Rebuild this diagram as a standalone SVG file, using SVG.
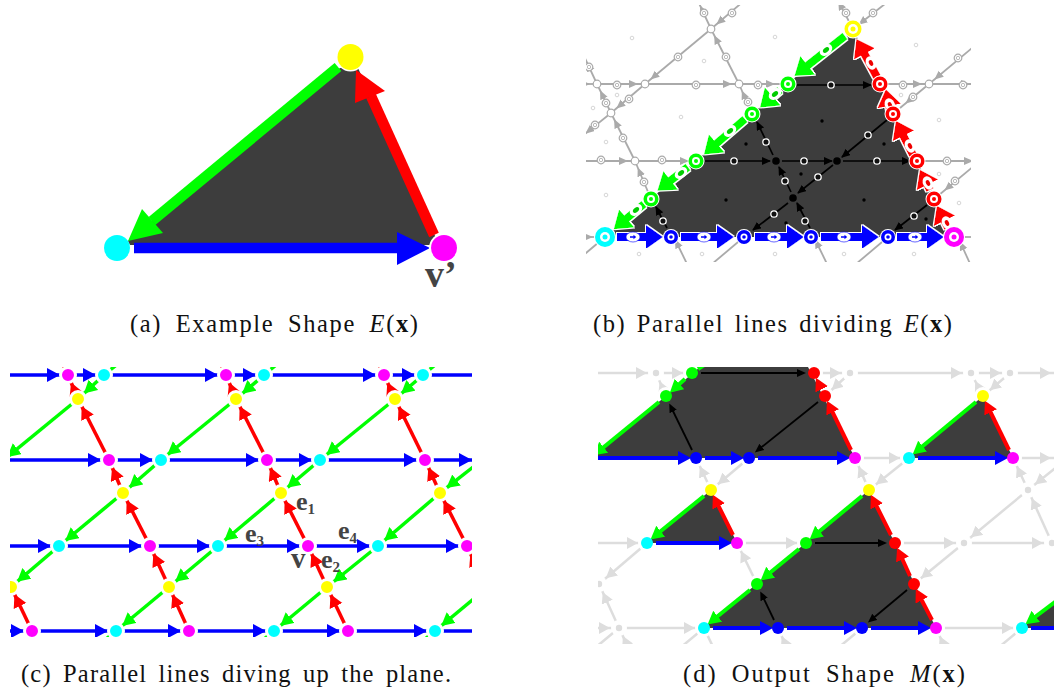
<svg xmlns="http://www.w3.org/2000/svg" width="1054" height="692" viewBox="0 0 1054 692">
<style>
text{font-family:"Liberation Serif","Times New Roman",serif}
.cap{font-size:24.5px;fill:#111}
.lab{font-weight:bold;fill:#444;font-size:26px}
.sub{font-size:15px}
.dark{fill:#3d3d3d}
.cb{stroke:#00f;stroke-width:3.5;fill:none;marker-end:url(#hcb)}
.cg{stroke:#0f0;stroke-width:3.5;fill:none;marker-end:url(#hcg)}
.cr{stroke:#f00;stroke-width:3.5;fill:none;marker-end:url(#hcr)}
.db{stroke:#00f;stroke-width:4;marker-end:url(#hdb)}
.dg{stroke:#0f0;stroke-width:4;marker-end:url(#hdg)}
.dr{stroke:#f00;stroke-width:4;marker-end:url(#hdr)}
.dk{stroke:#000;stroke-width:1.8;marker-end:url(#hdk)}
.dy{stroke:#ddd;stroke-width:2.5;marker-end:url(#hdy)}
.bb{stroke:#00f;stroke-width:8;marker-end:url(#hbb)}
.bg{stroke:#0f0;stroke-width:8;marker-end:url(#hbg)}
.br{stroke:#f00;stroke-width:8;marker-end:url(#hbr)}
.bk{stroke:#000;stroke-width:1.7;marker-end:url(#hbk)}
.by{stroke:#aaa;stroke-width:1.8;marker-end:url(#hby)}
.n{stroke:#fff;stroke-width:3}
.m{fill:#f0f}.c{fill:#0ff}.y{fill:#ff0}.u{fill:#00f}.g{fill:#0f0}.r{fill:#f00}
.f{fill:#fff;stroke:#ccc;stroke-width:.8}
</style>
<defs>
<clipPath id="pb"><rect x="586" y="5" width="385" height="257"/></clipPath>
<clipPath id="pc"><rect x="10" y="367" width="462" height="270"/></clipPath>
<clipPath id="pd"><rect x="598" y="367" width="456" height="277"/></clipPath>
<marker id="hcb" markerUnits="userSpaceOnUse" markerWidth="40" markerHeight="30" refX="21" refY="7" orient="auto"><path d="M0,0L13,7L0,14Z" fill="#00f"/></marker>
<marker id="hcg" markerUnits="userSpaceOnUse" markerWidth="40" markerHeight="30" refX="21" refY="7" orient="auto"><path d="M0,0L13,7L0,14Z" fill="#0f0"/></marker>
<marker id="hcr" markerUnits="userSpaceOnUse" markerWidth="40" markerHeight="30" refX="21" refY="7" orient="auto"><path d="M0,0L13,7L0,14Z" fill="#f00"/></marker>
<marker id="hdb" markerUnits="userSpaceOnUse" markerWidth="20" markerHeight="20" refX="6" refY="7" orient="auto"><path d="M0,0L13,7L0,14Z" fill="#00f"/></marker>
<marker id="hdg" markerUnits="userSpaceOnUse" markerWidth="20" markerHeight="20" refX="6" refY="7" orient="auto"><path d="M0,0L13,7L0,14Z" fill="#0f0"/></marker>
<marker id="hdr" markerUnits="userSpaceOnUse" markerWidth="20" markerHeight="20" refX="6" refY="7" orient="auto"><path d="M0,0L13,7L0,14Z" fill="#f00"/></marker>
<marker id="hdk" markerUnits="userSpaceOnUse" markerWidth="20" markerHeight="20" refX="5" refY="4" orient="auto"><path d="M0,0L9,4L0,8Z" fill="#000"/></marker>
<marker id="hdy" markerUnits="userSpaceOnUse" markerWidth="40" markerHeight="30" refX="20" refY="6" orient="auto"><path d="M0,0L11,6L0,12Z" fill="#ddd"/></marker>
<marker id="hbb" markerUnits="userSpaceOnUse" markerWidth="20" markerHeight="30" refX="1" refY="12" orient="auto"><path d="M0,0L17,12L0,24Z" fill="#00f"/></marker>
<marker id="hbg" markerUnits="userSpaceOnUse" markerWidth="20" markerHeight="30" refX="1" refY="12" orient="auto"><path d="M0,0L17,12L0,24Z" fill="#0f0"/></marker>
<marker id="hbr" markerUnits="userSpaceOnUse" markerWidth="20" markerHeight="30" refX="1" refY="12" orient="auto"><path d="M0,0L17,12L0,24Z" fill="#f00"/></marker>
<marker id="hbk" markerUnits="userSpaceOnUse" markerWidth="12" markerHeight="10" refX="8" refY="4" orient="auto"><path d="M0,0L9,4L0,8Z" fill="#000"/></marker>
<marker id="hby" markerUnits="userSpaceOnUse" markerWidth="30" markerHeight="12" refX="16" refY="4" orient="auto"><path d="M0,0L9,4L0,8Z" fill="#aaa"/></marker>
<filter id="wo" x="-5%" y="-5%" width="110%" height="110%"><feMorphology in="SourceAlpha" operator="dilate" radius="1" result="d"/><feFlood flood-color="#fff"/><feComposite in2="d" operator="in"/><feMerge><feMergeNode/><feMergeNode in="SourceGraphic"/></feMerge></filter>
<g id="ring"><circle r="3.8" fill="#fff" stroke="#aaa" stroke-width="1.2"/><circle r="1.7" fill="#fff" stroke="#aaa" stroke-width=".8"/></g>
<g id="kr"><circle r="3.2" fill="#111" stroke="#fff" stroke-width="1.300"/></g>
<g id="capb"><ellipse rx="7" ry="5" fill="#fff" stroke="#00f" stroke-width=".6"/><path d="M-3,-.7H.5V-2.200L3.200,0L.5,2.200V.7H-3Z" fill="#00f"/></g>
<g id="capg"><ellipse rx="7" ry="5" fill="#fff"/><ellipse rx="3.600" ry="2.200" fill="#0c0"/></g>
<g id="capr"><ellipse rx="7" ry="5" fill="#fff"/><ellipse rx="3" ry="2" fill="#e00"/></g>
</defs>

<!-- panel a -->
<polygon class="dark" points="128,241 340,68 358,68 436,238 430,245 130,245"/>
<g id="a-connectors">
<path d="M134,248H397" stroke="#00f" stroke-width="10.500"/><path d="M397,232L430,248L397,265Z" fill="#00f"/>
<path d="M338,67L152,221" stroke="#0f0" stroke-width="10.500"/><path d="M142,209L128,241L163,233Z" fill="#0f0"/>
<path d="M434,235L371,96" stroke="#f00" stroke-width="10.500"/><path d="M355,103L356,70L385,91Z" fill="#f00"/>
</g>
<g id="a-cyan"><circle class="c" cx="117" cy="248" r="13"/></g>
<g id="a-yellow"><circle cx="350.500" cy="57" r="14.500" fill="#fff"/><circle class="y" cx="350.500" cy="57" r="13"/></g>
<g id="a-magenta"><circle cx="444" cy="248" r="15" fill="#fff"/><circle class="m" cx="444" cy="248" r="13"/></g>
<text class="lab" x="425" y="287" style="font-size:38px">v’</text>
<text class="cap" x="130" y="332" textLength="288" lengthAdjust="spacing" style="word-spacing:6px">(a) Example Shape <tspan font-style="italic">E</tspan>(<tspan font-weight="bold">x</tspan>)</text>

<!-- panel b -->
<g clip-path="url(#pb)">
<g id="b-faint">
<circle class="f" cx="632" cy="38" r="1.800"/><circle class="f" cx="704" cy="61" r="1.800"/><circle class="f" cx="681" cy="117" r="1.800"/><circle class="f" cx="617" cy="95" r="1.800"/><circle class="f" cx="593" cy="108" r="1.800"/><circle class="f" cx="606" cy="142" r="1.800"/><circle class="f" cx="606" cy="195" r="1.800"/><circle class="f" cx="639" cy="254" r="1.800"/><circle class="f" cx="702" cy="254" r="1.800"/><circle class="f" cx="775" cy="254" r="1.800"/><circle class="f" cx="844" cy="254" r="1.800"/><circle class="f" cx="914" cy="254" r="1.800"/><circle class="f" cx="959" cy="203" r="1.800"/><circle class="f" cx="939" cy="174" r="1.800"/><circle class="f" cx="939" cy="120" r="1.800"/><circle class="f" cx="901" cy="95" r="1.800"/><circle class="f" cx="916" cy="45" r="1.800"/><circle class="f" cx="775" cy="37" r="1.800"/>
</g>
<g id="b-gray-connectors">
<line class="by" x1="711" y1="29" x2="645" y2="84"/><line class="by" x1="739" y1="84" x2="711" y2="29"/>
<line class="by" x1="586" y1="84" x2="597" y2="84"/><line class="by" x1="597" y1="84" x2="645" y2="84"/><line class="by" x1="645" y1="84" x2="739" y2="84"/><line class="by" x1="739" y1="84" x2="782" y2="84"/>
<line class="by" x1="879" y1="84" x2="929" y2="84"/><line class="by" x1="929" y1="84" x2="977" y2="84"/><line class="by" x1="929" y1="84" x2="900" y2="108"/><line class="by" x1="972" y1="48" x2="929" y2="84"/>
<line class="by" x1="752" y1="114" x2="739" y2="84"/><line class="by" x1="645" y1="84" x2="611" y2="113"/><line class="by" x1="611" y1="113" x2="597" y2="84"/><line class="by" x1="611" y1="113" x2="580" y2="138"/><line class="by" x1="597" y1="84" x2="584" y2="56"/>
<line class="by" x1="635" y1="161" x2="611" y2="113"/><line class="by" x1="580" y1="161" x2="635" y2="161"/><line class="by" x1="635" y1="161" x2="696" y2="161"/><line class="by" x1="917" y1="161" x2="980" y2="161"/><line class="by" x1="651" y1="199" x2="635" y2="161"/><line class="by" x1="975" y1="165" x2="939" y2="195"/>
<line class="by" x1="745" y1="0" x2="711" y2="29"/><line class="by" x1="711" y1="29" x2="697" y2="-1"/><line class="by" x1="890" y1="0" x2="853" y2="29"/><line class="by" x1="853" y1="29" x2="835" y2="-5"/>
<line class="by" x1="605" y1="237" x2="580" y2="258" style="marker-end:none"/><line class="by" x1="744" y1="237" x2="712" y2="264" style="marker-end:none"/><line class="by" x1="888" y1="237" x2="856" y2="264" style="marker-end:none"/>
<line class="by" x1="689" y1="268" x2="672" y2="233"/><line class="by" x1="829" y1="268" x2="812" y2="233"/><line class="by" x1="972" y1="268" x2="957" y2="235"/>
<line class="by" x1="580" y1="237" x2="600" y2="237"/><line class="by" x1="954" y1="237" x2="985" y2="237" style="marker-end:none"/>
</g>
<g id="b-gray-rings">
<use href="#ring" x="678" y="57"/><use href="#ring" x="726" y="57"/><use href="#ring" x="617" y="85"/><use href="#ring" x="696" y="85"/><use href="#ring" x="758" y="85"/><use href="#ring" x="903" y="85"/><use href="#ring" x="963" y="85"/><use href="#ring" x="913" y="97"/><use href="#ring" x="958" y="58"/><use href="#ring" x="748" y="102"/><use href="#ring" x="629" y="99"/><use href="#ring" x="606" y="103"/><use href="#ring" x="595" y="125"/><use href="#ring" x="589" y="67"/><use href="#ring" x="623" y="138"/><use href="#ring" x="601" y="160"/><use href="#ring" x="662" y="160"/><use href="#ring" x="947" y="161"/><use href="#ring" x="644" y="182"/><use href="#ring" x="955" y="181"/><use href="#ring" x="732" y="13"/><use href="#ring" x="704" y="13"/><use href="#ring" x="873" y="13"/><use href="#ring" x="846" y="13"/>
</g>
<g id="b-gray-nodes" fill="#fff" stroke="#aaa" stroke-width="1.2">
<g id="b-g1"><circle cx="711" cy="29" r="3.800"/></g><g id="b-g2"><circle cx="645" cy="84" r="3.800"/></g><g id="b-g3"><circle cx="739" cy="84" r="3.800"/></g><g id="b-g4"><circle cx="929" cy="84" r="3.800"/></g><g id="b-g5"><circle cx="597" cy="84" r="3.800"/></g><g id="b-g6"><circle cx="611" cy="113" r="3.800"/></g><g id="b-g7"><circle cx="635" cy="161" r="3.800"/></g>
</g>
<polygon class="dark" points="605,237 853,29 954,237"/>
<g fill="#000"><circle cx="822" cy="121" r="1.700"/><circle cx="884" cy="144" r="1.700"/><circle cx="746" cy="144" r="1.700"/><circle cx="801" cy="174" r="1.700"/><circle cx="726" cy="200" r="1.700"/><circle cx="864" cy="200" r="1.700"/><circle cx="926" cy="219" r="1.700"/><circle cx="786" cy="223" r="1.700"/></g>
<g id="b-black-connectors">
<line class="bk" x1="797" y1="85" x2="871" y2="85"/><line class="bk" x1="782" y1="161" x2="832" y2="161"/><line class="bk" x1="705" y1="161" x2="770" y2="161"/><line class="bk" x1="843" y1="161" x2="910" y2="161"/>
<line class="bk" x1="887" y1="120" x2="842" y2="157"/><line class="bk" x1="833" y1="165" x2="798" y2="193"/><line class="bk" x1="788" y1="203" x2="753" y2="230"/><line class="bk" x1="927" y1="205" x2="895" y2="230"/>
<line class="bk" x1="810" y1="228" x2="797" y2="203"/><line class="bk" x1="791" y1="192" x2="779" y2="167"/><line class="bk" x1="773" y1="155" x2="757" y2="122"/><line class="bk" x1="667" y1="228" x2="656" y2="207"/>
</g>
<use href="#kr" x="831" y="85"/><use href="#kr" x="734" y="161"/><use href="#kr" x="804" y="161"/><use href="#kr" x="877" y="161"/><use href="#kr" x="868" y="135"/><use href="#kr" x="818" y="177"/><use href="#kr" x="774" y="214"/><use href="#kr" x="914" y="216"/><use href="#kr" x="805" y="221"/><use href="#kr" x="785" y="181"/><use href="#kr" x="766" y="142"/><use href="#kr" x="663" y="221"/>
<g id="b-colored-connectors" filter="url(#wo)">
<line class="bb" x1="617" y1="237" x2="647" y2="237"/><line class="bb" x1="681" y1="237" x2="718" y2="237"/><line class="bb" x1="755" y1="237" x2="788" y2="237"/><line class="bb" x1="821" y1="237" x2="863" y2="237"/><line class="bb" x1="897" y1="237" x2="928" y2="237"/>
<line class="bg" x1="845" y1="36" x2="807" y2="66"/><line class="bg" x1="780" y1="90" x2="772" y2="97"/><line class="bg" x1="745" y1="119" x2="716" y2="144"/><line class="bg" x1="688" y1="167" x2="670" y2="181"/><line class="bg" x1="644" y1="204" x2="626" y2="219"/>
<line class="br" x1="948" y1="228" x2="944" y2="220"/><line class="br" x1="930" y1="190" x2="927" y2="184"/><line class="br" x1="913" y1="155" x2="903" y2="135"/><line class="br" x1="890" y1="110" x2="889" y2="105"/><line class="br" x1="877" y1="77" x2="864" y2="53"/>
</g>
<g id="b-capsules">
<use href="#capb" x="633" y="237"/><use href="#capb" x="704" y="237"/><use href="#capb" x="774" y="237"/><use href="#capb" x="844" y="237"/><use href="#capb" x="915" y="237"/>
<use href="#capg" transform="translate(826,50) rotate(-40)"/><use href="#capg" transform="translate(775,94) rotate(-40)"/><use href="#capg" transform="translate(730,131) rotate(-40)"/><use href="#capg" transform="translate(681,173) rotate(-40)"/><use href="#capg" transform="translate(636,210) rotate(-40)"/>
<use href="#capr" transform="translate(871,63) rotate(65)"/><use href="#capr" transform="translate(890,105) rotate(65)"/><use href="#capr" transform="translate(910,146) rotate(65)"/><use href="#capr" transform="translate(928,183) rotate(65)"/><use href="#capr" transform="translate(947,223) rotate(65)"/>
</g>
<g id="b-nodes" fill="#fff">
<g id="b-k1"><circle cx="776" cy="161" r="3.800" fill="#000"/></g><g id="b-k2"><circle cx="837" cy="161" r="3.800" fill="#000"/></g><g id="b-k3"><circle cx="793" cy="198" r="3.800" fill="#000"/></g>
<g id="b-u1"><circle cx="671" cy="237" r="8"/><circle cx="671" cy="237" r="7" class="u"/><circle cx="671" cy="237" r="3.500"/><circle cx="671" cy="237" r="1.800" class="u"/></g>
<g id="b-u2"><circle cx="744" cy="237" r="8"/><circle cx="744" cy="237" r="7" class="u"/><circle cx="744" cy="237" r="3.500"/><circle cx="744" cy="237" r="1.800" class="u"/></g>
<g id="b-u3"><circle cx="811" cy="237" r="8"/><circle cx="811" cy="237" r="7" class="u"/><circle cx="811" cy="237" r="3.500"/><circle cx="811" cy="237" r="1.800" class="u"/></g>
<g id="b-u4"><circle cx="888" cy="237" r="8"/><circle cx="888" cy="237" r="7" class="u"/><circle cx="888" cy="237" r="3.500"/><circle cx="888" cy="237" r="1.800" class="u"/></g>
<g id="b-g-1"><circle cx="788" cy="84" r="8.500"/><circle cx="788" cy="84" r="7.500" class="g"/><circle cx="788" cy="84" r="4"/><circle cx="788" cy="84" r="2" class="g"/></g>
<g id="b-g-2"><circle cx="752" cy="114" r="8.500"/><circle cx="752" cy="114" r="7.500" class="g"/><circle cx="752" cy="114" r="4"/><circle cx="752" cy="114" r="2" class="g"/></g>
<g id="b-g-3"><circle cx="696" cy="161" r="8.500"/><circle cx="696" cy="161" r="7.500" class="g"/><circle cx="696" cy="161" r="4"/><circle cx="696" cy="161" r="2" class="g"/></g>
<g id="b-g-4"><circle cx="651" cy="199" r="8.500"/><circle cx="651" cy="199" r="7.500" class="g"/><circle cx="651" cy="199" r="4"/><circle cx="651" cy="199" r="2" class="g"/></g>
<g id="b-r1"><circle cx="880" cy="84" r="8.500"/><circle cx="880" cy="84" r="7.500" class="r"/><circle cx="880" cy="84" r="4"/><circle cx="880" cy="84" r="2" class="r"/></g>
<g id="b-r2"><circle cx="893" cy="114" r="8.500"/><circle cx="893" cy="114" r="7.500" class="r"/><circle cx="893" cy="114" r="4"/><circle cx="893" cy="114" r="2" class="r"/></g>
<g id="b-r3"><circle cx="917" cy="161" r="8.500"/><circle cx="917" cy="161" r="7.500" class="r"/><circle cx="917" cy="161" r="4"/><circle cx="917" cy="161" r="2" class="r"/></g>
<g id="b-r4"><circle cx="934" cy="199" r="8.500"/><circle cx="934" cy="199" r="7.500" class="r"/><circle cx="934" cy="199" r="4"/><circle cx="934" cy="199" r="2" class="r"/></g>
<g id="b-cyan"><circle cx="605" cy="237" r="11"/><circle cx="605" cy="237" r="10" class="c"/><circle cx="605" cy="237" r="5"/><circle cx="605" cy="237" r="2.500" class="c"/></g>
<g id="b-yellow"><circle cx="853" cy="29" r="9.500"/><circle cx="853" cy="29" r="8.500" class="y"/><circle cx="853" cy="29" r="5"/><circle cx="853" cy="29" r="2.500" class="y"/></g>
<g id="b-magenta"><circle cx="954" cy="237" r="11"/><circle cx="954" cy="237" r="10" class="m"/><circle cx="954" cy="237" r="5"/><circle cx="954" cy="237" r="2.500" class="m"/></g>
</g>
</g>
<text class="cap" x="593" y="332" textLength="359" lengthAdjust="spacing" style="word-spacing:3px">(b) Parallel lines dividing <tspan font-style="italic">E</tspan>(<tspan font-weight="bold">x</tspan>)</text>

<!-- panel c -->
<g clip-path="url(#pc)">
<g id="c-connectors">
<path class="cb" d="M0,375H68"/><path class="cb" d="M68,375H104"/><path class="cb" d="M104,375H226"/><path class="cb" d="M226,375H264"/><path class="cb" d="M264,375H384"/><path class="cb" d="M384,375H423"/><path d="M423,375H480" stroke="#00f" stroke-width="3.500"/>
<path class="cb" d="M0,460H109"/><path class="cb" d="M109,460H161"/><path class="cb" d="M161,460H267"/><path class="cb" d="M267,460H320"/><path class="cb" d="M320,460H425"/><path class="cb" d="M425,460H480"/>
<path class="cb" d="M0,546H59"/><path class="cb" d="M59,546H150"/><path class="cb" d="M150,546H218"/><path class="cb" d="M218,546H308"/><path class="cb" d="M308,546H378"/><path class="cb" d="M378,546H467"/>
<path class="cb" d="M0,631H32"/><path class="cb" d="M32,631H116"/><path class="cb" d="M116,631H189"/><path class="cb" d="M189,631H274"/><path class="cb" d="M274,631H348"/><path class="cb" d="M348,631H435"/><path d="M435,631H480" stroke="#00f" stroke-width="3.500"/>
<path class="cg" d="M104,375L78,399"/><path class="cg" d="M264,375L236,399"/><path class="cg" d="M423,375L395,399"/>
<path class="cg" d="M78,399L1,462"/><path class="cg" d="M236,399L161,460"/><path class="cg" d="M395,399L320,460"/>
<path class="cg" d="M161,460L123,493"/><path class="cg" d="M320,460L281,493"/><path class="cg" d="M482,460L440,493"/>
<path class="cg" d="M123,493L59,546"/><path class="cg" d="M281,493L218,546"/><path class="cg" d="M440,493L378,546"/>
<path class="cg" d="M59,546L11,587"/><path class="cg" d="M218,546L169,587"/><path class="cg" d="M378,546L327,587"/>
<path class="cg" d="M169,587L116,631"/><path class="cg" d="M327,587L274,631"/><path class="cg" d="M488,587L435,631"/>
<path d="M141,345L104,375M300,345L264,375M459,345L423,375M116,631L90,652M274,631L248,652M435,631L409,652" stroke="#0f0" stroke-width="3.500"/>
<path class="cr" d="M189,631L169,587"/><path class="cr" d="M348,631L327,587"/><path class="cr" d="M32,631L11,587"/>
<path class="cr" d="M169,587L150,546"/><path class="cr" d="M327,587L308,546"/>
<path class="cr" d="M150,546L123,493"/><path class="cr" d="M308,546L281,493"/><path class="cr" d="M467,546L440,493"/>
<path class="cr" d="M123,493L109,460"/><path class="cr" d="M281,493L267,460"/><path class="cr" d="M440,493L425,460"/>
<path class="cr" d="M109,460L78,399"/><path class="cr" d="M267,460L236,399"/><path class="cr" d="M425,460L395,399"/>
<path class="cr" d="M78,399L68,375"/><path class="cr" d="M236,399L226,375"/><path class="cr" d="M395,399L384,375"/>
<path class="cr" d="M68,375L60,358"/><path class="cr" d="M226,375L218,358"/><path class="cr" d="M384,375L376,358"/>
<path class="cr" d="M54,677L32,631"/><path class="cr" d="M211,677L189,631"/><path class="cr" d="M370,677L348,631"/><path class="cr" d="M487,590L467,546"/>
</g>
<g id="c-nodes">
<g id="c-m1"><circle class="m n" cx="68" cy="375" r="7.500"/></g><g id="c-m2"><circle class="m n" cx="226" cy="375" r="7.500"/></g><g id="c-m3"><circle class="m n" cx="384" cy="375" r="7.500"/></g>
<g id="c-c1"><circle class="c n" cx="104" cy="375" r="7.500"/></g><g id="c-c2"><circle class="c n" cx="264" cy="375" r="7.500"/></g><g id="c-c3"><circle class="c n" cx="423" cy="375" r="7.500"/></g>
<g id="c-y1"><circle class="y n" cx="78" cy="399" r="7.500"/></g><g id="c-y2"><circle class="y n" cx="236" cy="399" r="7.500"/></g><g id="c-y3"><circle class="y n" cx="395" cy="399" r="7.500"/></g>
<g id="c-m4"><circle class="m n" cx="109" cy="460" r="7.500"/></g><g id="c-m5"><circle class="m n" cx="267" cy="460" r="7.500"/></g><g id="c-m6"><circle class="m n" cx="425" cy="460" r="7.500"/></g>
<g id="c-c4"><circle class="c n" cx="161" cy="460" r="7.500"/></g><g id="c-c5"><circle class="c n" cx="320" cy="460" r="7.500"/></g>
<g id="c-y4"><circle class="y n" cx="123" cy="493" r="7.500"/></g><g id="c-y5"><circle class="y n" cx="281" cy="493" r="7.500"/></g><g id="c-y6"><circle class="y n" cx="440" cy="493" r="7.500"/></g>
<g id="c-c6"><circle class="c n" cx="59" cy="546" r="7.500"/></g><g id="c-m7"><circle class="m n" cx="150" cy="546" r="7.500"/></g><g id="c-c7"><circle class="c n" cx="218" cy="546" r="7.500"/></g><g id="c-m8"><circle class="m n" cx="308" cy="546" r="7.500"/></g><g id="c-c8"><circle class="c n" cx="378" cy="546" r="7.500"/></g><g id="c-m9"><circle class="m n" cx="467" cy="546" r="7.500"/></g>
<g id="c-y7"><circle class="y n" cx="11" cy="587" r="7.500"/></g><g id="c-y8"><circle class="y n" cx="169" cy="587" r="7.500"/></g><g id="c-y9"><circle class="y n" cx="327" cy="587" r="7.500"/></g>
<g id="c-m10"><circle class="m n" cx="32" cy="631" r="7.500"/></g><g id="c-c9"><circle class="c n" cx="116" cy="631" r="7.500"/></g><g id="c-m11"><circle class="m n" cx="189" cy="631" r="7.500"/></g><g id="c-c10"><circle class="c n" cx="274" cy="631" r="7.500"/></g><g id="c-m12"><circle class="m n" cx="348" cy="631" r="7.500"/></g><g id="c-c11"><circle class="c n" cx="435" cy="631" r="7.500"/></g>
</g>
</g>
<text class="lab" x="296" y="510">e<tspan class="sub" dy="4">1</tspan></text>
<text class="lab" x="245" y="542">e<tspan class="sub" dy="4">3</tspan></text>
<text class="lab" x="338" y="539">e<tspan class="sub" dy="4">4</tspan></text>
<text class="lab" x="321" y="568">e<tspan class="sub" dy="4">2</tspan></text>
<text class="lab" x="291" y="568" style="font-size:29px">v</text>
<text class="cap" x="21" y="682" textLength="430" lengthAdjust="spacing" style="word-spacing:4px">(c) Parallel lines diving up the plane.</text>

<!-- panel d -->
<g clip-path="url(#pd)">
<g id="d-gray-connectors">
<path class="dy" d="M590,373H656"/><path class="dy" d="M656,373H692"/><path class="dy" d="M814,373H850"/><path class="dy" d="M850,373H971"/><path class="dy" d="M971,373H1010"/><path class="dy" d="M1010,373H1060"/>
<path class="dy" d="M855,458H909"/><path class="dy" d="M1013,458H1060"/>
<path class="dy" d="M590,543H647"/><path class="dy" d="M737,543H806"/><path class="dy" d="M895,543H964"/><path class="dy" d="M964,543H1052"/>
<path class="dy" d="M590,628H619"/><path class="dy" d="M619,628H704"/><path class="dy" d="M936,628H1022"/>
<path class="dy" d="M850,373L825,396"/><path class="dy" d="M1010,373L983,396"/><path class="dy" d="M666,396L656,373"/><path class="dy" d="M983,396L971,373"/>
<path class="dy" d="M711,490L696,458"/><path class="dy" d="M749,458L711,490"/><path class="dy" d="M869,490L855,458"/><path class="dy" d="M909,458L869,490"/><path class="dy" d="M1028,490L1013,458"/><path class="dy" d="M1068,458L1028,490"/>
<path class="dy" d="M1028,490L964,543"/><path class="dy" d="M1052,543L1028,490"/><path class="dy" d="M647,543L599,584"/><path class="dy" d="M757,584L737,543"/><path class="dy" d="M964,543L914,584"/><path class="dy" d="M619,628L599,584"/>
<path class="dy" d="M640,672L619,628"/><path class="dy" d="M798,672L778,628"/><path class="dy" d="M956,672L936,628"/><path class="dy" d="M725,672L704,628" style="marker-end:none"/>
<path d="M704,628L680,648M862,628L838,648M619,628L595,648M1022,628L998,648" stroke="#ddd" stroke-width="2.500"/>
</g>
<g id="d-halos" fill="#fff">
<circle cx="692" cy="373" r="9"/><circle cx="814" cy="373" r="9"/><circle cx="666" cy="396" r="9"/><circle cx="825" cy="396" r="9"/><circle cx="983" cy="396" r="9"/><circle cx="696" cy="458" r="9"/><circle cx="749" cy="458" r="9"/><circle cx="855" cy="458" r="9"/><circle cx="909" cy="458" r="9"/><circle cx="1013" cy="458" r="9"/><circle cx="711" cy="490" r="9"/><circle cx="869" cy="490" r="9"/><circle cx="647" cy="543" r="9"/><circle cx="737" cy="543" r="9"/><circle cx="806" cy="543" r="9"/><circle cx="895" cy="543" r="9"/><circle cx="757" cy="584" r="9"/><circle cx="914" cy="584" r="9"/><circle cx="704" cy="628" r="9"/><circle cx="778" cy="628" r="9"/><circle cx="862" cy="628" r="9"/><circle cx="936" cy="628" r="9"/><circle cx="1022" cy="628" r="9"/>
<circle cx="656" cy="373" r="8"/><circle cx="850" cy="373" r="8"/><circle cx="971" cy="373" r="8"/><circle cx="1010" cy="373" r="8"/><circle cx="1028" cy="490" r="8"/><circle cx="964" cy="543" r="8"/><circle cx="1052" cy="543" r="8"/><circle cx="599" cy="584" r="8"/><circle cx="619" cy="628" r="8"/>
</g>
<g id="d-gray-nodes" fill="#ddd">
<g id="d-x1"><circle cx="656" cy="373" r="3.200"/></g><g id="d-x2"><circle cx="850" cy="373" r="3.200"/></g><g id="d-x3"><circle cx="971" cy="373" r="3.200"/></g><g id="d-x4"><circle cx="1010" cy="373" r="3.200"/></g><g id="d-x5"><circle cx="1028" cy="490" r="3.200"/></g><g id="d-x6"><circle cx="964" cy="543" r="3.200"/></g><g id="d-x7"><circle cx="1052" cy="543" r="3.200"/></g><g id="d-x8"><circle cx="599" cy="584" r="3.200"/></g><g id="d-x9"><circle cx="619" cy="628" r="3.200"/></g>
</g>
<g id="d-shapes" class="dark">
<polygon points="590,458 666,396 700,367 808,367 855,458"/>
<polygon points="909,458 983,396 1013,458"/>
<polygon points="647,543 711,490 737,543"/>
<polygon points="704,628 869,490 936,628"/>
<polygon points="1022,628 1060,597 1060,628"/>
</g>
<g id="d-connectors">
<line class="db" x1="590" y1="458" x2="684" y2="458"/><line class="db" x1="705" y1="458" x2="737" y2="458"/><line class="db" x1="758" y1="458" x2="843" y2="458"/><line class="db" x1="918" y1="458" x2="1001" y2="458"/><line class="db" x1="656" y1="543" x2="725" y2="543"/><line class="db" x1="713" y1="628" x2="766" y2="628"/><line class="db" x1="787" y1="628" x2="850" y2="628"/><line class="db" x1="871" y1="628" x2="924" y2="628"/><line class="db" x1="1031" y1="628" x2="1065" y2="628"/>
<line class="dg" x1="685" y1="379" x2="675" y2="388"/><line class="dg" x1="659" y1="402" x2="599" y2="451"/><line class="dg" x1="976" y1="402" x2="918" y2="450"/><line class="dg" x1="704" y1="496" x2="656" y2="535"/><line class="dg" x1="862" y1="496" x2="815" y2="535"/><line class="dg" x1="799" y1="549" x2="766" y2="576"/><line class="dg" x1="750" y1="590" x2="713" y2="620"/><line class="dg" x1="1063" y1="596" x2="1031" y2="620"/>
<path d="M712,360L698,369" stroke="#0f0" stroke-width="4"/>
<line class="dr" x1="821" y1="388" x2="819" y2="384"/><line class="dr" x1="851" y1="450" x2="830" y2="407"/><line class="dr" x1="1009" y1="450" x2="988" y2="407"/><line class="dr" x1="733" y1="535" x2="716" y2="501"/><line class="dr" x1="891" y1="535" x2="874" y2="501"/><line class="dr" x1="910" y1="576" x2="900" y2="554"/><line class="dr" x1="932" y1="620" x2="919" y2="595"/>
<line class="dk" x1="701" y1="373" x2="802" y2="373"/><line class="dk" x1="818" y1="402" x2="758" y2="450"/><line class="dk" x1="692" y1="450" x2="671" y2="407"/><line class="dk" x1="815" y1="543" x2="883" y2="543"/><line class="dk" x1="774" y1="620" x2="762" y2="595"/><line class="dk" x1="907" y1="590" x2="871" y2="620"/>
</g>
<g id="d-nodes">
<g id="d-g1"><circle class="g" cx="692" cy="373" r="6"/></g><g id="d-r1"><circle class="r" cx="814" cy="373" r="6"/></g><g id="d-g2"><circle class="g" cx="666" cy="396" r="6"/></g><g id="d-r2"><circle class="r" cx="825" cy="396" r="6"/></g><g id="d-y1"><circle class="y" cx="983" cy="396" r="6"/></g>
<g id="d-u1"><circle class="u" cx="696" cy="458" r="6"/></g><g id="d-u2"><circle class="u" cx="749" cy="458" r="6"/></g><g id="d-m1"><circle class="m" cx="855" cy="458" r="6"/></g><g id="d-c1"><circle class="c" cx="909" cy="458" r="6"/></g><g id="d-m2"><circle class="m" cx="1013" cy="458" r="6"/></g>
<g id="d-y2"><circle class="y" cx="711" cy="490" r="6"/></g><g id="d-y3"><circle class="y" cx="869" cy="490" r="6"/></g>
<g id="d-c2"><circle class="c" cx="647" cy="543" r="6"/></g><g id="d-m3"><circle class="m" cx="737" cy="543" r="6"/></g><g id="d-g3"><circle class="g" cx="806" cy="543" r="6"/></g><g id="d-r3"><circle class="r" cx="895" cy="543" r="6"/></g>
<g id="d-g4"><circle class="g" cx="757" cy="584" r="6"/></g><g id="d-r4"><circle class="r" cx="914" cy="584" r="6"/></g>
<g id="d-c3"><circle class="c" cx="704" cy="628" r="6"/></g><g id="d-u3"><circle class="u" cx="778" cy="628" r="6"/></g><g id="d-u4"><circle class="u" cx="862" cy="628" r="6"/></g><g id="d-m4"><circle class="m" cx="936" cy="628" r="6"/></g><g id="d-c4"><circle class="c" cx="1022" cy="628" r="6"/></g>
</g>
</g>
<text class="cap" x="683" y="682" textLength="282" lengthAdjust="spacing" style="word-spacing:6px">(d) Output Shape <tspan font-style="italic">M</tspan>(<tspan font-weight="bold">x</tspan>)</text>
</svg>
